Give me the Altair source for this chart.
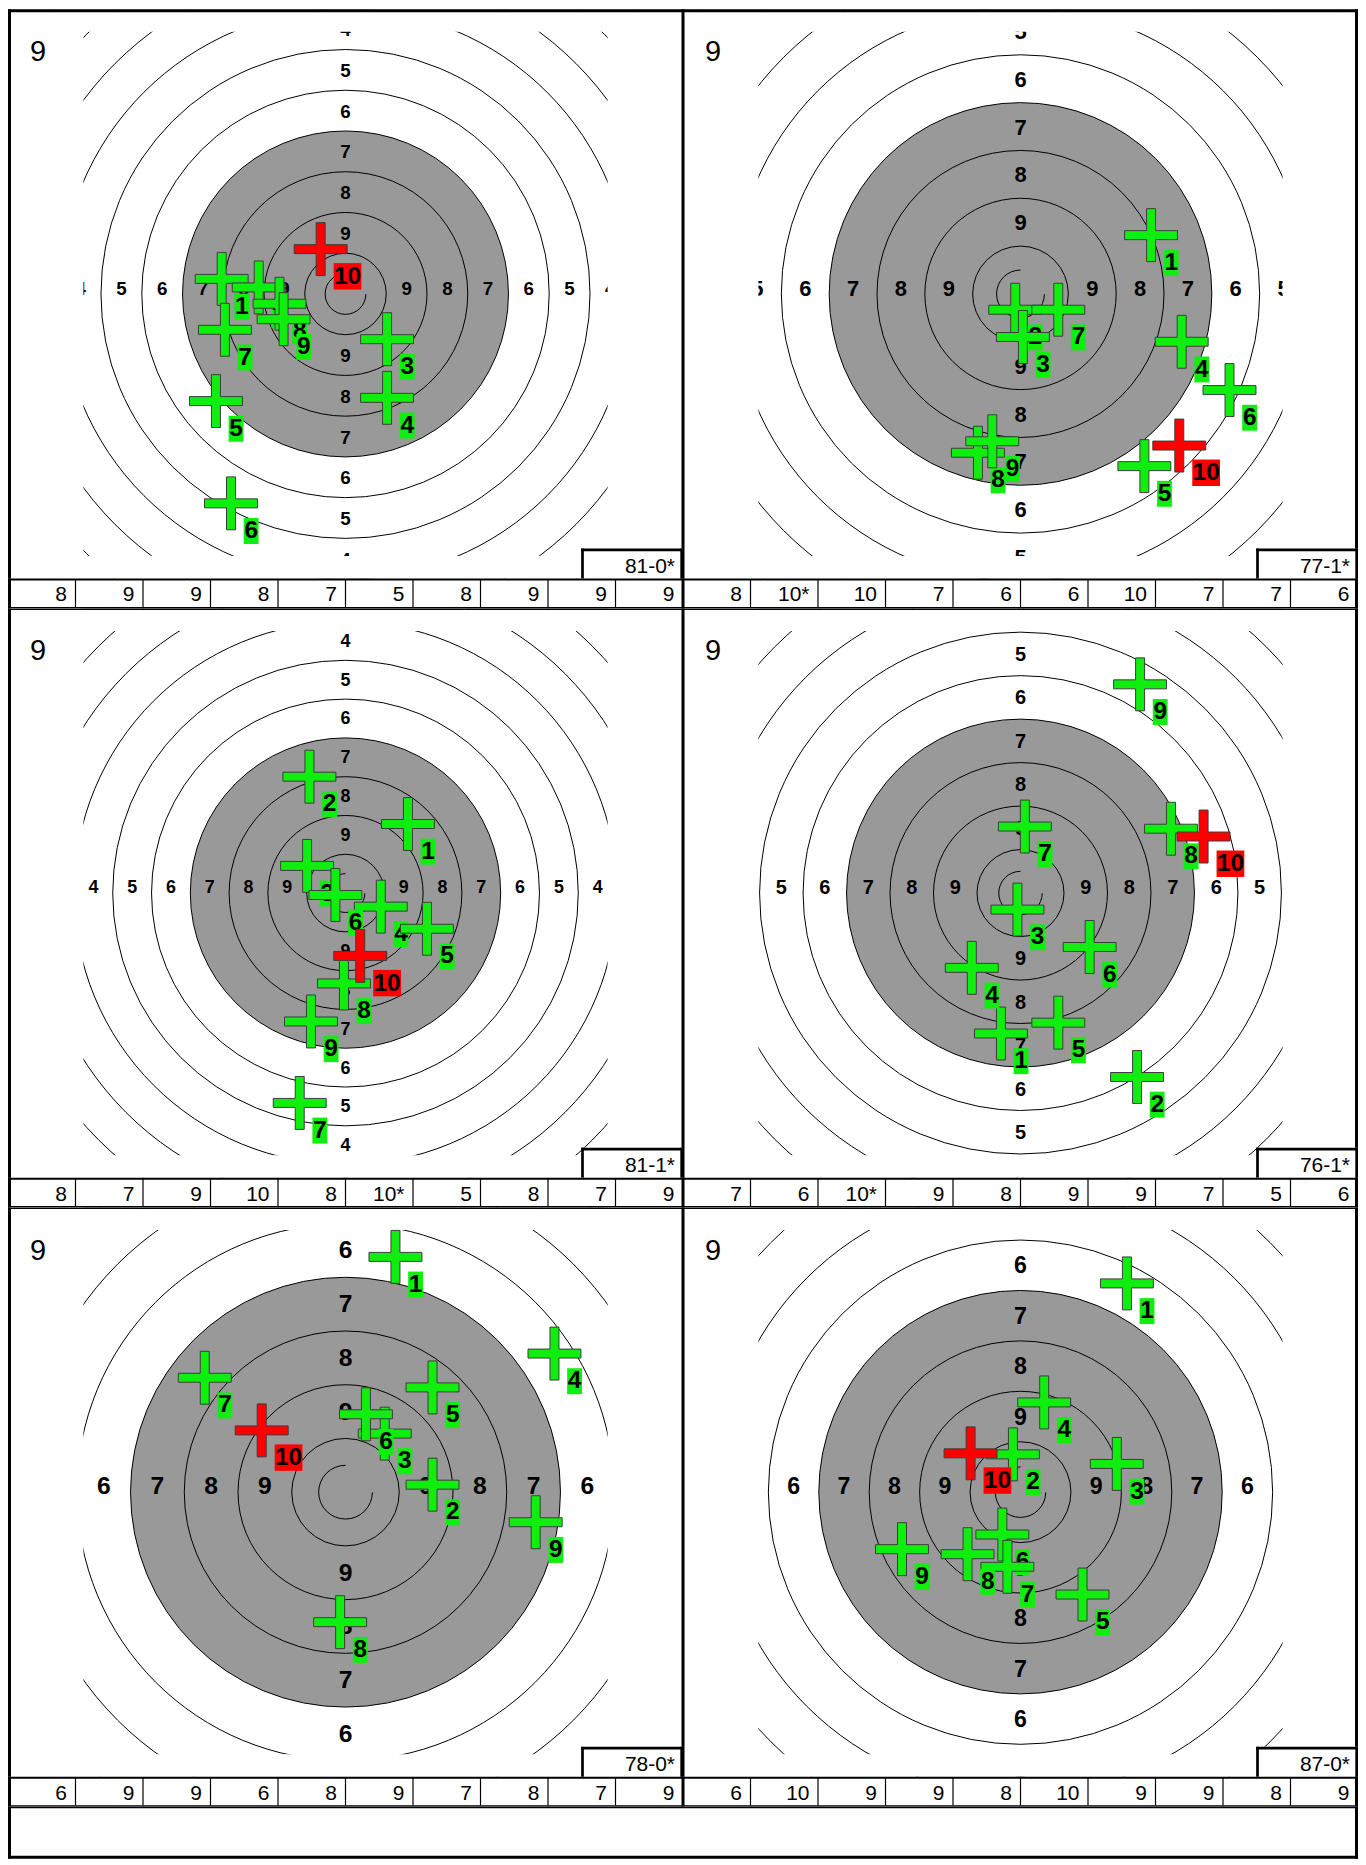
import math
import altair as alt
import pandas as pd

# ---------------- data ----------------
SERIES_LABEL = ["9", "9", "9", "9", "9", "9"]
TOTALS = ["81-0*", "77-1*", "81-1*", "76-1*", "78-0*", "87-0*"]
SCORES = [
    ["8", "9", "9", "8", "7", "5", "8", "9", "9", "9"],
    ["8", "10*", "10", "7", "6", "6", "10", "7", "7", "6"],
    ["8", "7", "9", "10", "8", "10*", "5", "8", "7", "9"],
    ["7", "6", "10*", "9", "8", "9", "9", "7", "5", "6"],
    ["6", "9", "9", "6", "8", "9", "7", "8", "7", "9"],
    ["6", "10", "9", "9", "8", "10", "9", "9", "8", "9"],
]
SHOT_NO = [1, 2, 3, 4, 5, 6, 7, 8, 9, 10]
# shot positions in ring units (x to the right, y upwards, target centre = 0,0)
SHOT_X = [
    [-3.04, -2.13, 1.02, 1.02, -3.18, -2.81, -2.96, -1.62, -1.52, -0.61],
    [2.73, -0.11, 0.05, 3.37, 2.59, 4.37, 0.79, -0.89, -0.59, 3.32],
    [1.61, -0.93, -0.99, 0.91, 2.10, -0.26, -1.18, -0.04, -0.89, 0.38],
    [-0.45, 2.68, -0.07, -1.12, 0.87, 1.59, 0.10, 3.46, 2.75, 4.21],
    [0.93, 1.62, 0.73, 3.89, 1.62, 0.38, -2.62, -0.10, 3.54, -1.56],
    [2.11, -0.15, 1.91, 0.47, 1.23, -0.36, -0.26, -1.05, -2.35, -0.99],
]
SHOT_Y = [
    [0.37, 0.16, -1.11, -2.55, -2.63, -5.14, -0.88, -0.24, -0.62, 1.10],
    [1.23, -0.33, -0.90, -1.00, -3.60, -2.01, -0.33, -3.32, -3.08, -3.17],
    [1.78, 3.00, 0.70, -0.35, -0.92, -0.05, -5.41, -2.33, -3.31, -1.62],
    [-3.23, -4.23, -0.38, -1.72, -2.98, -1.24, 1.53, 1.48, 4.80, 1.30],
    [4.38, 0.14, 1.09, 2.58, 1.95, 1.45, 2.13, -2.42, -0.56, 1.15],
    [4.14, 0.75, 0.56, 1.78, -2.03, -0.84, -1.48, -1.23, -1.13, 0.77],
]
RINGS = [10, 9, 8, 7, 6, 5, 4, 3, 2, 1]
BLACK_FROM = 7          # rings 7..10 form the grey aiming mark
INNER_RING = 0.5        # inner (dashed) ten ring, in ring units

# ---------------- view settings (zoom of each target, px per ring) ----------------
ZOOM = [40.8, 47.9, 38.85, 43.55, 53.8, 50.5]

W = 676          # panel width
TH = 570         # target area height
SH = 30          # score row height
BH = 52          # empty box at the bottom
CX, CY = 338, 285
HALF = 262.5     # half size of the visible target window
FONT = "Liberation Sans"
GREEN = "#10ee10"
RED = "#ff0000"
GREY = "#999999"

CROSS = "M-26.5,-4.5H-4.5V-26.5H4.5V-4.5H26.5V4.5H4.5V26.5H-4.5V4.5H-26.5Z"
BOX1 = "M12.7,14.7H27.6V40.7H12.7Z"
BOX2 = "M13,14H40.8V40.5H13Z"

one = pd.DataFrame({"z": [0]})


def bar(x1, x2, y1, y2, fill="black"):
    return (alt.Chart(one).mark_rect(fill=fill, strokeWidth=0)
            .encode(x=alt.value(x1), x2=alt.value(x2), y=alt.value(y1), y2=alt.value(y2)))


def vline(x, y1, y2, sw, side):
    return bar(x, x + sw, y1, y2) if side < 0 else bar(x - sw, x, y1, y2)


def hline(y, x1, x2, sw, side):
    return bar(x1, x2, y, y + sw) if side < 0 else bar(x1, x2, y - sw, y)


def target_panel(p):
    r, c = divmod(p, 2)
    s = ZOOM[p]
    xs = alt.Scale(domain=[-CX / s, (W - CX) / s], nice=False, zero=False)
    ys = alt.Scale(domain=[-(TH - CY) / s, CY / s], nice=False, zero=False)
    rs = alt.Scale(type="linear", domain=[0, 12], range=[0, 12 * s], zero=True, nice=False)

    def X(f):
        return alt.X(f, type="quantitative", scale=xs, axis=None)

    def Y(f):
        return alt.Y(f, type="quantitative", scale=ys, axis=None)

    def R(f):
        return alt.Radius(f, type="quantitative", scale=rs, stack=False)

    rings = pd.DataFrame({"k": RINGS, "r": [11 - k for k in RINGS],
                          "cx": [0.0] * len(RINGS), "cy": [0.0] * len(RINGS)})
    inner = pd.DataFrame({"r": [INNER_RING], "cx": [0.0], "cy": [0.0]})

    lab_rows = []
    for k in RINGS[1:]:
        d = 10.5 - k
        lab_rows += [
            {"x": -d, "y": 0.0, "t": str(k), "o": "h"},
            {"x": d, "y": 0.0, "t": str(k), "o": "h"},
            {"x": 0.0, "y": d, "t": str(k), "o": "v"},
            {"x": 0.0, "y": -d, "t": str(k), "o": "v"},
        ]
    labels = pd.DataFrame(lab_rows)

    layers = []
    layers.append(
        alt.Chart(rings).transform_filter(f"datum.k == {BLACK_FROM}")
        .mark_arc(theta=0, theta2=2 * math.pi, fill=GREY, strokeWidth=0, clip=True)
        .encode(x=X("cx"), y=Y("cy"), radius=R("r"))
    )
    layers.append(
        alt.Chart(rings)
        .mark_arc(theta=0, theta2=2 * math.pi, filled=False, color="black",
                  strokeWidth=1, clip=True)
        .encode(x=X("cx"), y=Y("cy"), radius=R("r"))
    )
    circ = 2 * math.pi * INNER_RING * s
    layers.append(
        alt.Chart(inner)
        .mark_arc(theta=0, theta2=2 * math.pi, filled=False, color="black",
                  strokeWidth=1, strokeDash=[0.75 * circ, 0.25 * circ],
                  strokeDashOffset=0.75 * circ, clip=True)
        .encode(x=X("cx"), y=Y("cy"), radius=R("r"))
    )
    fs = round(0.46 * s, 1)
    layers.append(
        alt.Chart(labels).transform_filter("datum.o == 'h'")
        .mark_text(font=FONT, fontWeight="bold", fontSize=fs, align="center",
                   baseline="middle", dy=-5, color="black", clip=True)
        .encode(x=X("x"), y=Y("y"), text="t:N")
    )
    layers.append(
        alt.Chart(labels).transform_filter("datum.o == 'v'")
        .mark_text(font=FONT, fontWeight="bold", fontSize=fs, align="center",
                   baseline="middle", dy=1, color="black", clip=True)
        .encode(x=X("x"), y=Y("y"), text="t:N")
    )
    # white masks outside the visible target window
    for (x1, x2, y1, y2) in [(0, W, 0, CY - HALF), (0, W, CY + HALF, TH),
                             (0, CX - HALF, 0, TH), (CX + HALF, W, 0, TH)]:
        layers.append(bar(x1, x2, y1, y2, fill="white"))
    # frame (kept inside the view; shared edges add up to 3px)
    layers.append(hline(0, 0, W, 3 if r == 0 else 1.5, -1))
    layers.append(vline(0, 0, TH, 3 if c == 0 else 1.5, -1))
    layers.append(vline(W, 0, TH, 3 if c == 1 else 1.5, 1))
    # series number
    layers.append(
        alt.Chart(pd.DataFrame({"label": [SERIES_LABEL[p]]}))
        .mark_text(font=FONT, fontSize=29, align="left", baseline="alphabetic", color="black")
        .encode(x=alt.value(22), y=alt.value(52), text="label:N")
    )
    # total box
    layers.append(bar(W - 102, W, 540, TH, fill="white"))
    layers.append(hline(540, W - 102, W, 2.7, -1))
    layers.append(vline(W - 102, 540, TH, 2.7, -1))
    layers.append(vline(W, 540, TH, 2.7, 1))
    layers.append(
        alt.Chart(pd.DataFrame({"total": [TOTALS[p]]}))
        .mark_text(font=FONT, fontSize=21, align="right", baseline="alphabetic", color="black")
        .encode(x=alt.value(W - 8), y=alt.value(564), text="total:N")
    )
    # shots, drawn in order
    shots = pd.DataFrame({"n": SHOT_NO, "x": SHOT_X[p], "y": SHOT_Y[p],
                          "lab": [str(n) for n in SHOT_NO]})
    last = SHOT_NO[-1]
    for n in SHOT_NO:
        col = RED if n == last else GREEN
        two = len(str(n)) > 1
        base = alt.Chart(shots).transform_filter(f"datum.n == {n}")
        layers.append(
            base.mark_point(shape=CROSS, size=4, filled=True, fill=col, stroke="#3c3c3c",
                            strokeWidth=1, opacity=1)
            .encode(x=X("x"), y=Y("y"))
        )
        layers.append(
            base.mark_point(shape=BOX2 if two else BOX1, size=4, filled=True, fill=col,
                            strokeWidth=0, opacity=1)
            .encode(x=X("x"), y=Y("y"))
        )
        layers.append(
            base.mark_text(font=FONT, fontWeight="bold", fontSize=24.5, align="center",
                           baseline="middle", dx=26.9 if two else 20.2, dy=27.8, color="black")
            .encode(x=X("x"), y=Y("y"), text="lab:N")
        )
    return alt.layer(*layers).properties(width=W, height=TH)


def score_panel(p):
    r, c = divmod(p, 2)
    df = pd.DataFrame({"i": list(range(10)), "score": SCORES[p]})
    xb = alt.Scale(paddingInner=0, paddingOuter=0)
    dividers = alt.Chart(df).transform_filter("datum.i > 0").mark_rule(
        color="black", strokeWidth=1.2).encode(
        x=alt.X("i:O", scale=xb, axis=None, bandPosition=0),
        y=alt.value(1.3), y2=alt.value(SH - 1.3))
    txt = alt.Chart(df).mark_text(font=FONT, fontSize=21, align="right",
                                  baseline="alphabetic", dx=-8.5, color="black").encode(
        x=alt.X("i:O", scale=xb, axis=None, bandPosition=1), y=alt.value(23), text="score:N")
    return alt.layer(
        dividers, txt,
        hline(0, 0, W, 2, -1),
        hline(SH, 0, W, 1.5, 1),
        vline(0, 0, SH, 3 if c == 0 else 1.5, -1),
        vline(W, 0, SH, 3 if c == 1 else 1.5, 1),
    ).properties(width=W, height=SH)


def res(ch):
    return ch.resolve_scale(x="independent", y="independent", radius="independent")


panels = [res(alt.vconcat(target_panel(p), score_panel(p), spacing=0)) for p in range(6)]
rows = [res(alt.hconcat(panels[2 * r], panels[2 * r + 1], spacing=0)) for r in range(3)]

bottom = alt.layer(
    bar(0, 2 * W, 0, BH, fill="white"),
    hline(0, 0, 2 * W, 1.5, -1),
    hline(BH, 0, 2 * W, 3, 1),
    vline(0, 0, BH, 3, -1),
    vline(2 * W, 0, BH, 3, 1),
).properties(width=2 * W, height=BH)

chart = res(alt.vconcat(*rows, bottom, spacing=0)).properties(
    padding=0
).configure_view(strokeWidth=0)

chart.save("out.html", embed_options={"renderer": "svg", "actions": False})
